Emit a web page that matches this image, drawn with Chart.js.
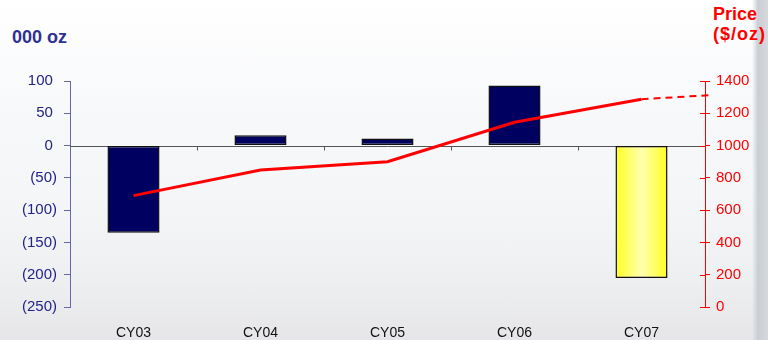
<!DOCTYPE html>
<html>
<head>
<meta charset="utf-8">
<script src="https://cdn.jsdelivr.net/npm/chart.js@4"></script>
<style>
	html, body { margin: 0; padding: 0; }
	body {
		width: 768px; height: 340px; position: relative; overflow: hidden;
		font-family: "Liberation Sans", Arial, sans-serif;
		background:
			linear-gradient(to right, rgba(255,255,255,0) 0, rgba(255,255,255,0) 752px, #c9ced4 758px, #d6dade 768px),
			linear-gradient(to bottom, #ffffff 0, #f7f8fa 120px, #f4f6f8 200px, #eeeff1 280px, #e6e6e8 340px);
	}
	.ttl { position: absolute; font-weight: bold; white-space: nowrap; }
	#left-title { left: 12px; top: 26px; color: #2e3192; font-size: 18px; line-height: 22px; }
	#right-title { left: 713px; top: 4px; color: #ff0000; text-align: left; font-size: 18px; line-height: 20px; }
	#right-title span { letter-spacing: 1px; }
	#wrap { position: absolute; left: 0; top: 0; width: 768px; height: 340px; }
</style>
</head>
<body>
<div class="ttl" id="left-title">000 oz</div>
<div class="ttl" id="right-title">Price<br><span>($/oz)</span></div>
<div id="wrap"><canvas id="chart" width="768" height="340"></canvas></div>
<script>
// categories and values
const years = ['CY03', 'CY04', 'CY05', 'CY06', 'CY07'];
const supplyBalance = [-135, 16, 11, 93, -205];   // 000 oz
const pricePos = [0, 1, 2, 3, 4, 4.55];             // last point = projection past CY07
const priceValues = [690, 849, 900, 1144, 1287, 1313]; // $/oz
const leftTicks = [100, 50, 0, -50, -100, -150, -200, -250];
const rightTicks = [0, 200, 400, 600, 800, 1000, 1200, 1400];

// zero line, category boundary ticks, inner half of right axis ticks
const axisMarks = {
	id: 'axisMarks',
	beforeDatasetsDraw(chart) {
		const c = chart.ctx;
		const x = chart.scales.x, y = chart.scales.y, y2 = chart.scales.y2;
		const zero = Math.round(y.getPixelForValue(0)) + 0.5;
		c.save();
		c.strokeStyle = '#555555';
		c.lineWidth = 1;
		c.beginPath();
		c.moveTo(chart.chartArea.left, zero);
		c.lineTo(chart.chartArea.right, zero);
		for (let i = 1; i < years.length; i++) {
			const bx = Math.round((x.getPixelForValue(i - 1) + x.getPixelForValue(i)) / 2) + 0.5;
			c.moveTo(bx, zero);
			c.lineTo(bx, zero + 4);
		}
		c.stroke();
		c.strokeStyle = '#ff0000';
		c.beginPath();
		rightTicks.forEach(v => {
			const py = Math.round(y2.getPixelForValue(v)) + 0.5;
			c.moveTo(y2.left - 5, py);
			c.lineTo(y2.left, py);
		});
		c.stroke();
		c.restore();
	}
};

function barColor(ctx) {
	if (ctx.dataIndex !== 4) return '#000060';
	const chart = ctx.chart;
	if (!chart.chartArea) return '#ffff33';
	const cx = chart.scales.x.getPixelForValue(ctx.dataIndex);
	const g = chart.ctx.createLinearGradient(cx - 26, 0, cx + 26, 0);
	g.addColorStop(0, '#ffff20');
	g.addColorStop(0.5, '#ffffb0');
	g.addColorStop(1, '#ffff20');
	return g;
}

new Chart(document.getElementById('chart'), {
	type: 'bar',
	data: {
		labels: years,
		datasets: [{
			type: 'line',
			label: 'Price',
			data: pricePos.map((p, i) => ({ x: p, y: priceValues[i] })),
			xAxisID: 'xl',
			yAxisID: 'y2',
			borderColor: '#ff0000',
			borderWidth: 3,
			pointRadius: 0,
			tension: 0,
			clip: false,
			order: 0,
			segment: {
				borderDash: ctx => ctx.p1DataIndex === pricePos.length - 1 ? [7, 5] : undefined,
				borderWidth: ctx => ctx.p1DataIndex === pricePos.length - 1 ? 2 : 3
			}
		}, {
			label: 'Balance',
			data: supplyBalance,
			yAxisID: 'y',
			grouped: false,
			backgroundColor: barColor,
			borderColor: '#111111',
			borderWidth: 1.5,
			borderSkipped: false,
			categoryPercentage: 1,
			barPercentage: 0.41,
			order: 1
		}]
	},
	options: {
		responsive: false,
		animation: false,
		events: [],
		layout: { padding: { top: 81, left: 0, right: 0, bottom: 0 } },
		plugins: { legend: { display: false }, tooltip: { enabled: false } },
		scales: {
			x: {
				type: 'category',
				offset: true,
				grid: { display: false },
				border: { display: false },
				ticks: { color: '#111111', padding: 10, font: { size: 14, family: '"Liberation Sans", Arial' } },
				afterFit: s => { s.height = 33; }
			},
			xl: {
				type: 'linear',
				display: false,
				offset: false,
				min: -0.5,
				max: 4.5
			},
			y: {
				position: 'left',
				min: -250,
				max: 100,
				afterBuildTicks: s => { s.ticks = leftTicks.map(v => ({ value: v })); },
				grid: { drawOnChartArea: false, tickLength: 6, color: '#6666aa' },
				border: { color: '#6666aa', width: 1 },
				ticks: {
					autoSkip: false,
					color: '#22228a',
					padding: 7,
					font: { size: 15, family: '"Liberation Sans", Arial' },
					callback: v => v < 0 ? '(' + Math.abs(v) + ')' : v + ' '
				},
				afterFit: s => { s.width = 70; }
			},
			y2: {
				position: 'right',
				min: 0,
				max: 1400,
				afterBuildTicks: s => { s.ticks = rightTicks.map(v => ({ value: v })); },
				grid: { drawOnChartArea: false, tickLength: 5, color: '#ff0000' },
				border: { color: '#ff0000', width: 1 },
				ticks: {
					autoSkip: false,
					color: '#ff0000',
					padding: 6,
					font: { size: 15, family: '"Liberation Sans", Arial' },
					callback: v => String(v)
				},
				afterFit: s => { s.width = 63; }
			}
		}
	},
	plugins: [axisMarks]
});
</script>
</body>
</html>
